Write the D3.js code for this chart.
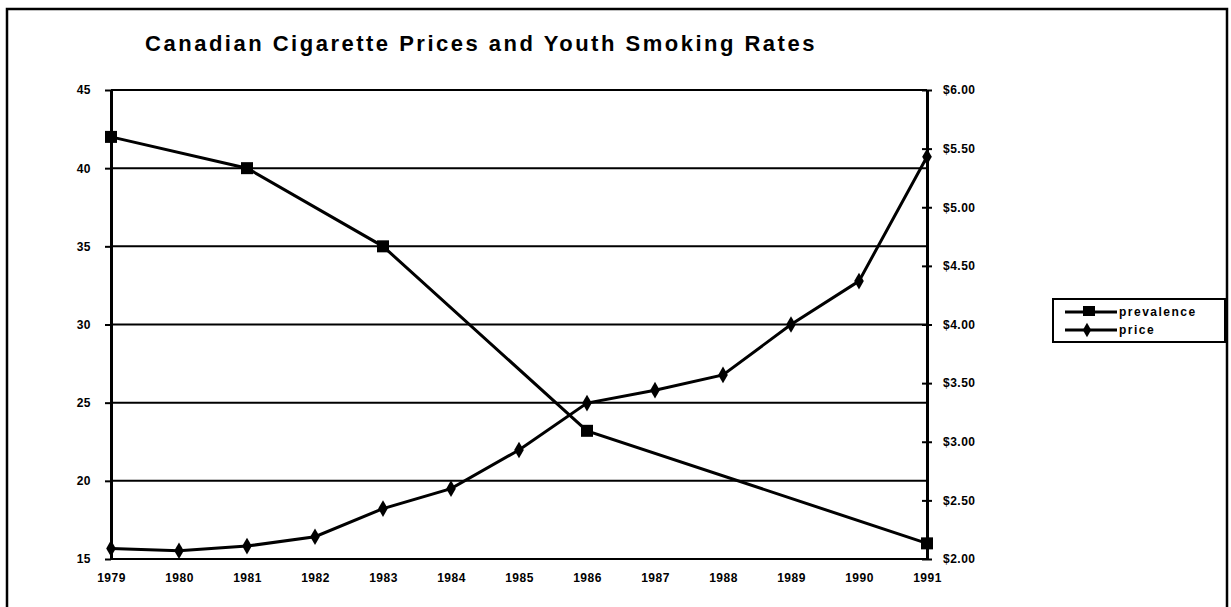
<!DOCTYPE html>
<html>
<head>
<meta charset="utf-8">
<script src="https://cdn.jsdelivr.net/npm/d3@7"></script>
<style>
  html, body { margin: 0; padding: 0; background: #fff; }
  svg { display: block; }
  text { font-family: "Liberation Sans", Arial, sans-serif; font-weight: bold; fill: #000; }
</style>
</head>
<body>
<svg id="chart" width="1231" height="607"></svg>
<script>
// values
const years = [1979, 1980, 1981, 1982, 1983, 1984, 1985, 1986, 1987, 1988, 1989, 1990, 1991]
// youth smoking prevalence (%), surveyed years only
const prevalence = [42, null, 40, null, 35, null, null, 23.2, null, null, null, null, 16]
// average cigarette price
const price = [2.09, 2.07, 2.11, 2.19, 2.43, 2.60, 2.93, 3.33, 3.44, 3.57, 4.00, 4.37, 5.43]
const leftTicks = [15, 20, 25, 30, 35, 40, 45]
const rightTicks = [2, 2.5, 3, 3.5, 4, 4.5, 5, 5.5, 6]
const seriesNames = ['prevalence', 'price']

const svg = d3.select('#chart')

const x = d3.scalePoint().domain(years).range([111, 927])
const yL = d3.scaleLinear().domain([15, 45]).range([559, 90])
const yR = d3.scaleLinear().domain([2, 6]).range([559, 90])

const tickFont = g => g.selectAll('.tick text')
    .style('font-size', '12px')
    .style('letter-spacing', '0.5px')
    .style('font-family', '"Liberation Sans", Arial, sans-serif')

// outer frame of the page
svg.append('rect')
    .attr('x', 7).attr('y', 9)
    .attr('width', 1220).attr('height', 610)
    .attr('fill', 'none').attr('stroke', '#000').attr('stroke-width', 2.5)

svg.append('text')
    .attr('x', 481).attr('y', 51)
    .attr('text-anchor', 'middle')
    .style('font-size', '22px')
    .style('letter-spacing', '2.5px')
    .style('font-weight', '900')
    .text('Canadian Cigarette Prices and Youth Smoking Rates')

// horizontal gridlines on the left axis values
svg.append('g').selectAll('line')
    .data(leftTicks)
    .join('line')
    .attr('x1', x.range()[0]).attr('x2', x.range()[1])
    .attr('y1', d => yL(d)).attr('y2', d => yL(d))
    .attr('stroke', '#000').attr('stroke-width', 2)

// left axis
const gL = svg.append('g')
    .attr('transform', `translate(${x.range()[0]},0)`)
    .call(d3.axisLeft(yL).tickValues(leftTicks).tickSize(6).tickPadding(14).tickSizeOuter(0))
gL.select('.domain').attr('stroke-width', 3)
gL.selectAll('.tick line').attr('stroke-width', 2)
gL.call(tickFont)

// right axis, ticks crossing the line
const gR = svg.append('g')
    .attr('transform', `translate(${x.range()[1]},0)`)
    .call(d3.axisRight(yR).tickValues(rightTicks).tickFormat(d3.format('$.2f')).tickSize(5).tickPadding(11).tickSizeOuter(0))
gR.select('.domain').attr('stroke-width', 3)
gR.selectAll('.tick line').attr('x1', -5).attr('stroke-width', 2)
gR.call(tickFont)

// bottom axis
const gB = svg.append('g')
    .attr('transform', `translate(0,${yL.range()[0]})`)
    .call(d3.axisBottom(x).tickSize(0).tickPadding(14))
gB.select('.domain').remove()
gB.call(tickFont)

// prevalence line, squares at surveyed years
const prevData = years.map((yr, i) => ({ yr, v: prevalence[i] })).filter(d => d.v != null)
svg.append('path')
    .datum(prevData)
    .attr('d', d3.line().x(d => x(d.yr)).y(d => yL(d.v)))
    .attr('fill', 'none').attr('stroke', '#000').attr('stroke-width', 3)
svg.append('g').selectAll('rect')
    .data(prevData)
    .join('rect')
    .attr('x', d => x(d.yr) - 6).attr('y', d => yL(d.v) - 6)
    .attr('width', 12).attr('height', 12)
    .attr('fill', '#000')

// price line with diamond-ish markers
const priceData = years.map((yr, i) => ({ yr, v: price[i] }))
svg.append('path')
    .datum(priceData)
    .attr('d', d3.line().x(d => x(d.yr)).y(d => yR(d.v)))
    .attr('fill', 'none').attr('stroke', '#000').attr('stroke-width', 3)
svg.append('g').selectAll('path')
    .data(priceData)
    .join('path')
    .attr('transform', d => `translate(${x(d.yr)},${yR(d.v)})`)
    .attr('d', d3.symbol(d3.symbolDiamond, 80))
    .attr('fill', '#000')

// legend
const lg = svg.append('g').attr('transform', 'translate(1053,299)')
lg.append('rect')
    .attr('width', 172).attr('height', 43)
    .attr('fill', '#fff').attr('stroke', '#000').attr('stroke-width', 2)
const rows = lg.selectAll('g.row')
    .data(seriesNames)
    .join('g')
    .attr('class', 'row')
    .attr('transform', (d, i) => `translate(0,${13 + i * 18})`)
rows.append('line')
    .attr('x1', 12).attr('x2', 64)
    .attr('stroke', '#000').attr('stroke-width', 3)
rows.filter(d => d === 'prevalence').append('rect')
    .attr('x', 30).attr('y', -6).attr('width', 12).attr('height', 10).attr('fill', '#000')
rows.filter(d => d === 'price').append('path')
    .attr('transform', 'translate(34,0)')
    .attr('d', d3.symbol(d3.symbolDiamond, 60))
    .attr('fill', '#000')
rows.append('text')
    .attr('x', 66).attr('dy', '0.35em')
    .style('font-size', '12px')
    .style('letter-spacing', '1.5px')
    .text(d => d)
</script>
</body>
</html>
